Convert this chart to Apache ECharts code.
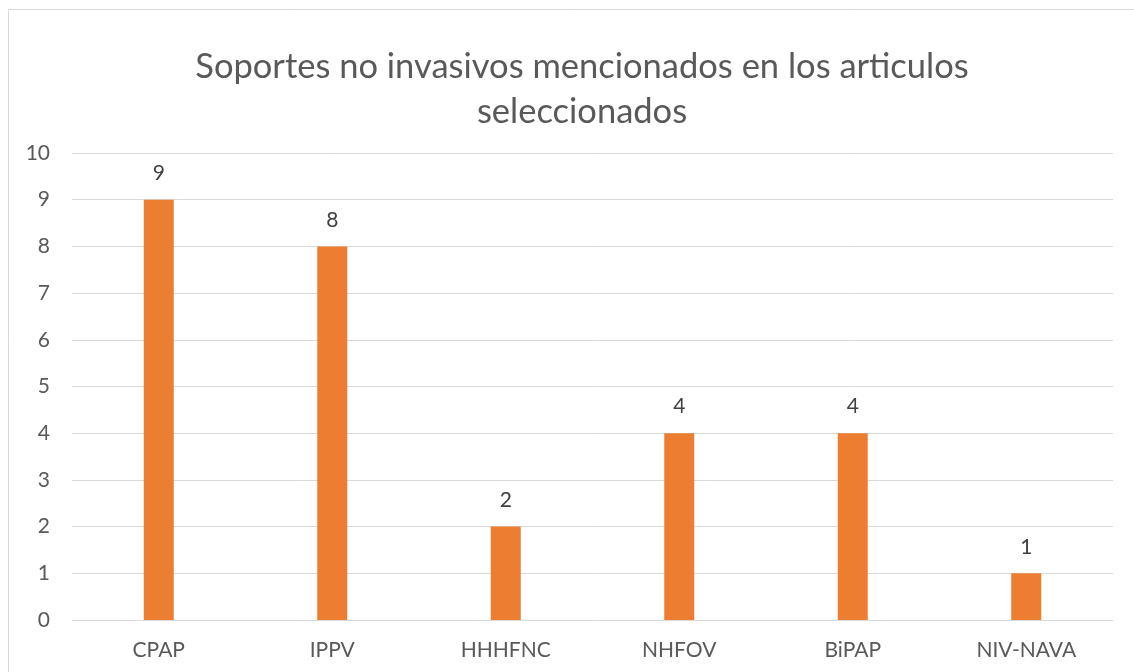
<!DOCTYPE html>
<html>
<head>
<meta charset="utf-8">
<script src="https://cdn.jsdelivr.net/npm/echarts@6/dist/echarts.min.js"></script>
<style>
html,body{margin:0;padding:0;background:#fff;}
#c{width:1134px;height:672px;}
</style>
</head>
<body>
<div id="c"></div>
<script>
const titleText = 'Soportes no invasivos mencionados en los articulos\nseleccionados';
const categories = ['CPAP', 'IPPV', 'HHHFNC', 'NHFOV', 'BiPAP', 'NIV-NAVA'];
const values = [9, 8, 2, 4, 4, 1];
const yTicks = [0, 1, 2, 3, 4, 5, 6, 7, 8, 9, 10];

const font = 'Lato, "Open Sans", sans-serif';
const chart = echarts.init(document.getElementById('c'), null, {renderer: 'canvas'});
chart.setOption({
  animation: false,
  backgroundColor: '#fff',
  graphic: [{
    type: 'rect',
    shape: {x: 8.5, y: 9.5, width: 1200, height: 700},
    style: {fill: 'none', stroke: '#d9d9d9', lineWidth: 1}
  }],
  title: {
    text: titleText,
    left: 577,
    textAlign: 'center',
    top: 39,
    textStyle: {fontFamily: font, fontSize: 34.5, fontWeight: 'normal', color: '#595959', lineHeight: 45}
  },
  grid: {left: 72, right: 21, top: 153, bottom: 52, containLabel: false},
  xAxis: {
    type: 'category',
    data: categories,
    axisLine: {show: true, lineStyle: {color: '#d9d9d9', width: 1}},
    axisTick: {show: false},
    axisLabel: {fontFamily: font, fontSize: 21, color: '#595959', margin: 20}
  },
  yAxis: {
    type: 'value',
    min: yTicks[0],
    max: yTicks[yTicks.length - 1],
    interval: 1,
    axisLine: {show: false},
    axisTick: {show: false},
    splitLine: {lineStyle: {color: '#d9d9d9', width: 1}},
    axisLabel: {fontFamily: font, fontSize: 21, color: '#595959', margin: 22}
  },
  series: [{
    type: 'bar',
    data: values,
    barWidth: 30,
    itemStyle: {color: '#ed7d31'},
    label: {show: true, position: 'top', distance: 16, fontFamily: font, fontSize: 21, color: '#404040'}
  }]
});
</script>
</body>
</html>
